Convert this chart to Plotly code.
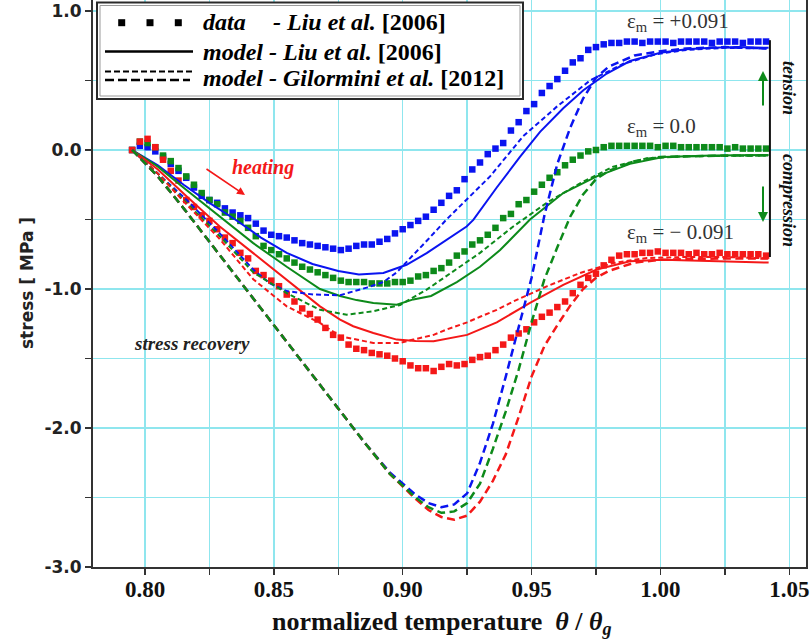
import plotly.graph_objects as go

# ---------------- data ----------------
theta_data = [0.795, 0.798, 0.801, 0.804, 0.807, 0.810, 0.813, 0.816, 0.819, 0.822,
              0.825, 0.828, 0.831, 0.834, 0.837, 0.840, 0.843, 0.846, 0.849, 0.852,
              0.855, 0.858, 0.861, 0.864, 0.867, 0.870, 0.873, 0.876, 0.879, 0.882,
              0.885, 0.888, 0.891, 0.894, 0.897, 0.900, 0.903, 0.906, 0.909, 0.912,
              0.915, 0.918, 0.921, 0.924, 0.927, 0.930, 0.933, 0.936, 0.939, 0.942,
              0.945, 0.948, 0.951, 0.954, 0.957, 0.960, 0.963, 0.966, 0.969, 0.972,
              0.975, 0.978, 0.981, 0.984, 0.987, 0.990, 0.993, 0.996, 0.999, 1.002,
              1.005, 1.008, 1.011, 1.014, 1.017, 1.020, 1.023, 1.026, 1.029, 1.032,
              1.035, 1.038, 1.041]

data_pos = [0.00, 0.03, 0.02, -0.01, -0.05, -0.10, -0.15, -0.20, -0.27, -0.33,
            -0.36, -0.38, -0.42, -0.45, -0.47, -0.49, -0.53, -0.58, -0.61, -0.62,
            -0.63, -0.65, -0.67, -0.68, -0.69, -0.70, -0.71, -0.72, -0.71, -0.69,
            -0.68, -0.68, -0.66, -0.64, -0.60, -0.57, -0.54, -0.51, -0.48, -0.43,
            -0.38, -0.33, -0.29, -0.21, -0.14, -0.09, -0.03, 0.01, 0.05, 0.14,
            0.20, 0.28, 0.33, 0.41, 0.46, 0.51, 0.57, 0.63, 0.66, 0.72,
            0.74, 0.76, 0.77, 0.77, 0.78, 0.78, 0.77, 0.78, 0.78, 0.78,
            0.77, 0.78, 0.78, 0.78, 0.78, 0.77, 0.78, 0.78, 0.78, 0.77,
            0.78, 0.78, 0.78]

data_zero = [0.00, 0.06, 0.05, 0.02, -0.04, -0.08, -0.13, -0.19, -0.25, -0.31,
             -0.36, -0.39, -0.45, -0.48, -0.51, -0.56, -0.62, -0.69, -0.72, -0.75,
             -0.78, -0.81, -0.84, -0.86, -0.88, -0.90, -0.92, -0.94, -0.95, -0.95,
             -0.95, -0.96, -0.96, -0.96, -0.95, -0.95, -0.94, -0.91, -0.90, -0.87,
             -0.85, -0.81, -0.76, -0.73, -0.68, -0.65, -0.61, -0.56, -0.49, -0.46,
             -0.39, -0.36, -0.30, -0.25, -0.20, -0.16, -0.11, -0.07, -0.04, -0.01,
             0.00, 0.02, 0.03, 0.03, 0.03, 0.03, 0.03, 0.03, 0.02, 0.03,
             0.03, 0.02, 0.02, 0.02, 0.02, 0.02, 0.02, 0.01, 0.02, 0.01,
             0.01, 0.01, 0.01]

data_neg = [0.00, 0.06, 0.08, 0.02, -0.07, -0.15, -0.22, -0.36, -0.41, -0.47,
            -0.51, -0.57, -0.63, -0.67, -0.74, -0.78, -0.87, -0.90, -0.94, -0.98,
            -1.04, -1.09, -1.14, -1.18, -1.22, -1.28, -1.33, -1.35, -1.40, -1.43,
            -1.44, -1.46, -1.47, -1.48, -1.50, -1.52, -1.55, -1.57, -1.57, -1.59,
            -1.56, -1.54, -1.55, -1.54, -1.51, -1.49, -1.48, -1.44, -1.40, -1.35,
            -1.32, -1.29, -1.24, -1.20, -1.17, -1.13, -1.09, -1.03, -0.97, -0.92,
            -0.89, -0.83, -0.79, -0.76, -0.75, -0.75, -0.74, -0.74, -0.73, -0.74,
            -0.74, -0.74, -0.75, -0.74, -0.75, -0.75, -0.74, -0.75, -0.75, -0.75,
            -0.75, -0.75, -0.76]

# model - Liu et al. [2006] (solid)
theta_liu_pos = [0.795, 0.805, 0.815, 0.825, 0.835, 0.845, 0.855, 0.865, 0.875, 0.883,
                 0.8925, 0.9015, 0.9093, 0.917, 0.9248, 0.9274, 0.9365, 0.9455, 0.9533, 0.9623,
                 0.9701, 0.9792, 0.9882, 1.000, 1.010, 1.020, 1.030, 1.042]
liu_pos = [0.0, -0.11, -0.25, -0.38, -0.50, -0.63, -0.74, -0.82, -0.87, -0.895,
           -0.885, -0.826, -0.742, -0.646, -0.551, -0.503, -0.27, -0.05, 0.13, 0.30,
           0.43, 0.55, 0.64, 0.70, 0.725, 0.735, 0.74, 0.735]

theta_liu_zero = [0.795, 0.805, 0.8162, 0.829, 0.842, 0.855, 0.8679, 0.8757, 0.8821, 0.8886,
                  0.8977, 0.9041, 0.911, 0.921, 0.930, 0.9378, 0.9494, 0.9623, 0.9753, 0.9882,
                  1.001, 1.020, 1.042]
liu_zero = [0.0, -0.12, -0.29, -0.48, -0.67, -0.84, -1.00, -1.05, -1.08, -1.10,
            -1.113, -1.075, -1.05, -0.95, -0.84, -0.72, -0.50, -0.31, -0.19, -0.10,
            -0.05, -0.04, -0.036]

theta_liu_neg = [0.795, 0.805, 0.8162, 0.829, 0.842, 0.855, 0.8679, 0.8757, 0.8808, 0.8886,
                 0.8977, 0.905, 0.912, 0.925, 0.9365, 0.9494, 0.9623, 0.9753, 0.9882, 1.001,
                 1.020, 1.042]
liu_neg = [0.0, -0.14, -0.335, -0.55, -0.742, -0.933, -1.125, -1.22, -1.268, -1.316,
           -1.364, -1.375, -1.376, -1.33, -1.24, -1.10, -0.97, -0.86, -0.80, -0.79,
           -0.80, -0.81]

# model - Gilormini et al. [2012], fine dashes
theta_gil_pos = [0.795, 0.805, 0.8162, 0.829, 0.842, 0.8485, 0.855, 0.8653, 0.8757, 0.886,
                 0.8925, 0.8977, 0.905, 0.910, 0.917, 0.925, 0.9339, 0.9468, 0.9597, 0.9727,
                 0.9856, 0.9986, 1.010, 1.025, 1.042]
gil_pos = [0.0, -0.17, -0.36, -0.60, -0.86, -0.96, -1.015, -1.04, -1.045, -0.99,
           -0.95, -0.88, -0.74, -0.64, -0.50, -0.35, -0.19, 0.10, 0.31, 0.50,
           0.62, 0.69, 0.72, 0.735, 0.73]

theta_gil_zero = [0.795, 0.805, 0.815, 0.829, 0.842, 0.855, 0.8679, 0.8783, 0.8886, 0.899,
                  0.9093, 0.920, 0.930, 0.9429, 0.9559, 0.9688, 0.9817, 0.9947, 1.010, 1.042]
gil_zero = [0.0, -0.17, -0.36, -0.62, -0.88, -1.03, -1.15, -1.185, -1.16, -1.115,
            -1.005, -0.87, -0.74, -0.55, -0.38, -0.24, -0.12, -0.06, -0.045, -0.04]

theta_gil_neg = [0.795, 0.805, 0.815, 0.829, 0.842, 0.855, 0.8679, 0.8757, 0.8886, 0.899,
                 0.9041, 0.912, 0.917, 0.925, 0.930, 0.9365, 0.9429, 0.9559, 0.9688, 0.9817,
                 0.9947, 1.010, 1.025, 1.042]
gil_neg = [0.0, -0.17, -0.37, -0.64, -0.93, -1.125, -1.244, -1.34, -1.388, -1.388,
           -1.364, -1.33, -1.292, -1.24, -1.20, -1.15, -1.09, -0.981, -0.885, -0.813,
           -0.777, -0.77, -0.77, -0.78]

# model - Gilormini et al. [2012], long dashes (stress recovery)
theta_rec = [0.795, 0.805, 0.815, 0.825, 0.835, 0.845, 0.855, 0.865, 0.875, 0.885,
             0.895, 0.905, 0.910, 0.915, 0.920, 0.925, 0.930, 0.935, 0.940, 0.945,
             0.950, 0.955, 0.960, 0.965, 0.970, 0.975, 0.980, 0.990, 1.000, 1.010,
             1.025, 1.042]
rec_pos = [0.0, -0.19, -0.42, -0.66, -0.90, -1.14, -1.38, -1.62, -1.86, -2.10,
           -2.32, -2.48, -2.54, -2.57, -2.55, -2.47, -2.25, -1.97, -1.63, -1.28,
           -0.92, -0.47, -0.10, 0.16, 0.37, 0.52, 0.60, 0.68, 0.71, 0.73,
           0.74, 0.73]
rec_zero = [0.0, -0.19, -0.42, -0.66, -0.90, -1.14, -1.38, -1.62, -1.86, -2.10,
            -2.33, -2.50, -2.57, -2.61, -2.60, -2.54, -2.40, -2.15, -1.88, -1.58,
            -1.24, -0.93, -0.70, -0.48, -0.32, -0.21, -0.15, -0.08, -0.05, -0.045,
            -0.04, -0.04]
rec_neg = [0.0, -0.19, -0.42, -0.66, -0.90, -1.14, -1.38, -1.62, -1.86, -2.10,
           -2.33, -2.51, -2.59, -2.64, -2.66, -2.63, -2.53, -2.38, -2.19, -1.92,
           -1.63, -1.41, -1.26, -1.12, -1.00, -0.92, -0.87, -0.81, -0.79, -0.785,
           -0.78, -0.78]

x_tickvals = [0.80, 0.85, 0.90, 0.95, 1.00, 1.05]
x_ticktext = ["0.80", "0.85", "0.90", "0.95", "1.00", "1.05"]
y_tickvals = [-3.0, -2.0, -1.0, 0.0, 1.0]
y_ticktext = ["-3.0", "-2.0", "-1.0", "0.0", "1.0"]

strain_labels = ["ε<sub>m</sub> = +0.091", "ε<sub>m</sub> = 0.0", "ε<sub>m</sub> = − 0.091"]

# ---------------- styling ----------------
BLUE = "#0a14f0"
GREEN = "#0d8a1a"
RED = "#f41818"
GRID = "#8fe6ee"
AXC = "#333333"
SERIF = "Liberation Serif"
SANS = "DejaVu Sans"

W, H = 811, 640
L, R, T, B = 93, 5, 0, 73
PW, PH = W - L - R, H - T - B


def px(x):
    return (x - L) / PW


def py(y):
    return (H - B - y) / PH


fig = go.Figure()

for ys, col in [(data_pos, BLUE), (data_zero, GREEN), (data_neg, RED)]:
    fig.add_trace(go.Scatter(x=theta_data, y=ys, mode="markers",
                             marker=dict(symbol="square", size=6.5, color=col, line=dict(width=0)),
                             showlegend=False, hoverinfo="skip"))

for xs, ys, col in [(theta_liu_pos, liu_pos, BLUE), (theta_liu_zero, liu_zero, GREEN),
                    (theta_liu_neg, liu_neg, RED)]:
    fig.add_trace(go.Scatter(x=xs, y=ys, mode="lines", line=dict(color=col, width=2),
                             showlegend=False, hoverinfo="skip"))

for xs, ys, col in [(theta_gil_pos, gil_pos, BLUE), (theta_gil_zero, gil_zero, GREEN),
                    (theta_gil_neg, gil_neg, RED)]:
    fig.add_trace(go.Scatter(x=xs, y=ys, mode="lines",
                             line=dict(color=col, width=2, dash="5px,3px"),
                             showlegend=False, hoverinfo="skip"))

for ys, col in [(rec_pos, BLUE), (rec_neg, RED), (rec_zero, GREEN)]:
    fig.add_trace(go.Scatter(x=theta_rec, y=ys, mode="lines",
                             line=dict(color=col, width=2.5, dash="8px,4.5px"),
                             showlegend=False, hoverinfo="skip"))

shapes = []
# bracket joining the end states
bx = theta_data[-1] + 0.0015
shapes.append(dict(type="line", xref="x", yref="y", x0=bx, x1=bx,
                   y0=data_pos[-1] + 0.01, y1=data_neg[-1] - 0.01,
                   line=dict(color="#111111", width=2)))

# legend box
shapes.append(dict(type="rect", xref="paper", yref="paper", layer="above",
                   x0=px(97), x1=px(523), y0=py(99), y1=py(2.5),
                   line=dict(color="#2a2a2a", width=2), fillcolor="white"))
shapes.append(dict(type="rect", xref="paper", yref="paper", layer="above",
                   x0=px(100), x1=px(520), y0=py(96), y1=py(5.5),
                   line=dict(color="#9a9a9a", width=1), fillcolor="rgba(0,0,0,0)"))
for cx in [121.7, 150.0, 178.3]:
    shapes.append(dict(type="rect", xref="paper", yref="paper", layer="above",
                       x0=px(cx - 3.5), x1=px(cx + 3.5), y0=py(22.7 + 3.5), y1=py(22.7 - 3.5),
                       line=dict(width=0), fillcolor="black"))
shapes.append(dict(type="line", xref="paper", yref="paper", layer="above",
                   x0=px(105), x1=px(193), y0=py(51.5), y1=py(51.5),
                   line=dict(color="black", width=2.5)))
shapes.append(dict(type="line", xref="paper", yref="paper", layer="above",
                   x0=px(105), x1=px(193), y0=py(71.5), y1=py(71.5),
                   line=dict(color="black", width=2, dash="6px,3px")))
shapes.append(dict(type="line", xref="paper", yref="paper", layer="above",
                   x0=px(105), x1=px(190), y0=py(80), y1=py(80),
                   line=dict(color="black", width=2.5, dash="9px,4px")))

ann = []
LEG_FONT = dict(family=SERIF, size=24, color="black")
ann.append(dict(x=px(201), y=py(22.5), xref="paper", yref="paper", xanchor="left", yanchor="middle",
                text="<b><i>data</i></b>", showarrow=False, font=LEG_FONT))
ann.append(dict(x=px(271), y=py(22.5), xref="paper", yref="paper", xanchor="left", yanchor="middle",
                text="<b><i>- Liu et al.</i> [2006]</b>", showarrow=False, font=LEG_FONT))
ann.append(dict(x=px(201), y=py(51.5), xref="paper", yref="paper", xanchor="left", yanchor="middle",
                text="<b><i>model - Liu et al.</i> [2006]</b>", showarrow=False, font=LEG_FONT))
ann.append(dict(x=px(201), y=py(78), xref="paper", yref="paper", xanchor="left", yanchor="middle",
                text="<b><i>model - Gilormini et al.</i> [2012]</b>", showarrow=False, font=LEG_FONT))

# axis titles
ann.append(dict(x=px(442), y=py(623), xref="paper", yref="paper", xanchor="center", yanchor="middle",
                text="<b>normalized temperature  <i>θ</i> / <i>θ<sub>g</sub></i></b>", showarrow=False,
                font=dict(family=SERIF, size=26, color="#111111")))
ann.append(dict(x=px(27), y=py(283), xref="paper", yref="paper", xanchor="center", yanchor="middle",
                text="<b>stress [ MPa ]</b>", textangle=-90, showarrow=False,
                font=dict(family=SANS, size=17, color="#222222")))

# strain labels
for lab, yy in zip(strain_labels, [22, 127, 233]):
    ann.append(dict(x=px(625), y=py(yy), xref="paper", yref="paper", xanchor="left", yanchor="middle",
                    text=lab, showarrow=False, font=dict(family=SERIF, size=21, color="#333333")))

ann.append(dict(x=px(789), y=py(88), xref="paper", yref="paper", xanchor="center", yanchor="middle",
                text="<b><i>tension</i></b>", textangle=90, showarrow=False,
                font=dict(family=SERIF, size=18, color="#111111")))
ann.append(dict(x=px(789), y=py(200), xref="paper", yref="paper", xanchor="center", yanchor="middle",
                text="<b><i>compression</i></b>", textangle=90, showarrow=False,
                font=dict(family=SERIF, size=18, color="#111111")))

ann.append(dict(x=px(263), y=py(167), xref="paper", yref="paper", xanchor="center", yanchor="middle",
                text="<b><i>heating</i></b>", showarrow=False,
                font=dict(family=SERIF, size=20, color=RED)))
ann.append(dict(x=px(192), y=py(343), xref="paper", yref="paper", xanchor="center", yanchor="middle",
                text="<b><i>stress recovery</i></b>", showarrow=False,
                font=dict(family=SERIF, size=19, color="#222222")))

# arrows
ann.append(dict(x=px(245), y=py(195), xref="paper", yref="paper", ax=-40, ay=-27,
                showarrow=True, arrowhead=2, arrowsize=1, arrowwidth=1.6, arrowcolor=RED, text=""))
ann.append(dict(x=px(763), y=py(71), xref="paper", yref="paper", ax=0, ay=36,
                showarrow=True, arrowhead=2, arrowsize=1, arrowwidth=2, arrowcolor=GREEN, text=""))
ann.append(dict(x=px(763), y=py(222), xref="paper", yref="paper", ax=0, ay=-37,
                showarrow=True, arrowhead=2, arrowsize=1, arrowwidth=2, arrowcolor=GREEN, text=""))

fig.update_layout(
    width=W, height=H,
    margin=dict(l=L, r=R, t=T, b=B),
    paper_bgcolor="white", plot_bgcolor="white",
    showlegend=False,
    shapes=shapes, annotations=ann,
    xaxis=dict(range=[0.80 - 52 / 2577, 0.80 + 661 / 2577], automargin=False,
               tickmode="array", tickvals=x_tickvals, ticktext=x_ticktext,
               tickfont=dict(family=SERIF, size=23, color="#111111", weight="bold"),
               ticks="outside", ticklen=6, tickwidth=1.5, tickcolor=AXC, ticklabelstandoff=-6,
               showline=True, linecolor=AXC, linewidth=2,
               showgrid=True, gridcolor=GRID, gridwidth=1.5, zeroline=False,
               minor=dict(tick0=0.8, dtick=0.025, ticks="outside", ticklen=6, tickwidth=1.5,
                          tickcolor=AXC, showgrid=True, gridcolor=GRID, gridwidth=1.5)),
    yaxis=dict(range=[-3.0, 1.079], automargin=False,
               tickmode="array", tickvals=y_tickvals, ticktext=y_ticktext,
               tickfont=dict(family=SANS, size=17, color="#222222", weight="bold"),
               ticks="outside", ticklen=6, tickwidth=1.5, tickcolor=AXC,
               showline=True, linecolor=AXC, linewidth=2, mirror=True,
               showgrid=True, gridcolor=GRID, gridwidth=1.5, zeroline=False,
               minor=dict(tick0=0.0, dtick=0.5, ticks="outside", ticklen=6, tickwidth=1.5,
                          tickcolor=AXC, showgrid=True, gridcolor=GRID, gridwidth=1.5)),
)

fig.write_html("out.html", config={"displayModeBar": False, "staticPlot": True},
               post_script="document.body.style.margin='0px';document.body.style.overflow='hidden';")
